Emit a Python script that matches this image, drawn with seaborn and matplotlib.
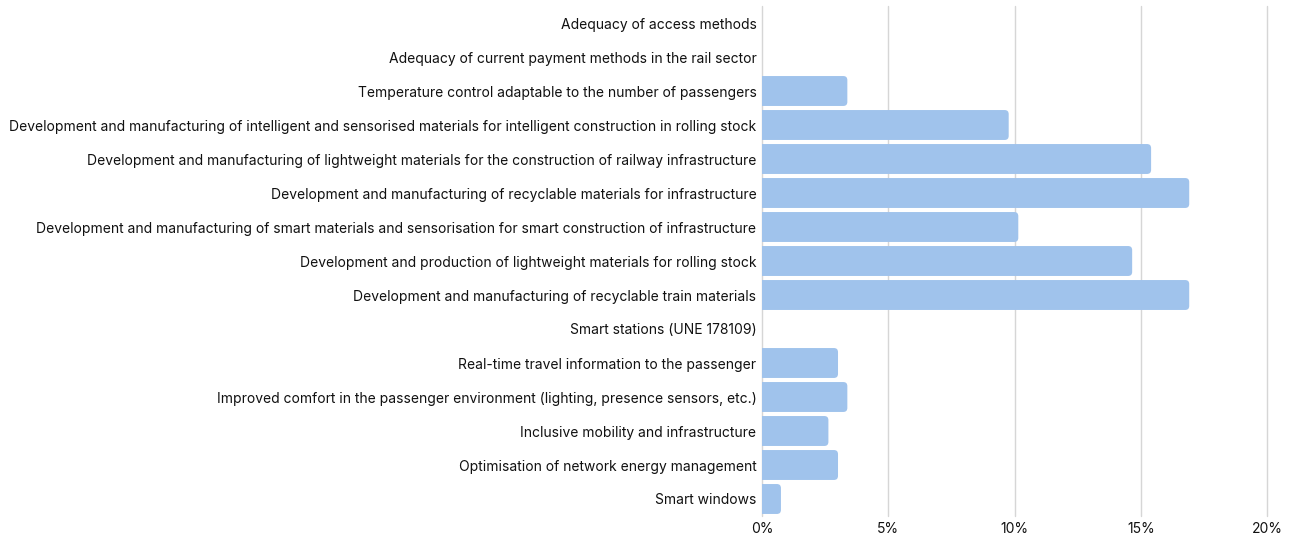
import matplotlib
matplotlib.use("Agg")
import matplotlib.pyplot as plt
import seaborn as sns
import pandas as pd
from matplotlib.patches import FancyBboxPatch
from matplotlib.ticker import FuncFormatter

categories = [
    "Adequacy of access methods",
    "Adequacy of current payment methods in the rail sector",
    "Temperature control adaptable to the number of passengers",
    "Development and manufacturing of intelligent and sensorised materials for intelligent construction in rolling stock",
    "Development and manufacturing of lightweight materials for the construction of railway infrastructure",
    "Development and manufacturing of recyclable materials for infrastructure",
    "Development and manufacturing of smart materials and sensorisation for smart construction of infrastructure",
    "Development and production of lightweight materials for rolling stock",
    "Development and manufacturing of recyclable train materials",
    "Smart stations (UNE 178109)",
    "Real-time travel information to the passenger",
    "Improved comfort in the passenger environment (lighting, presence sensors, etc.)",
    "Inclusive mobility and infrastructure",
    "Optimisation of network energy management",
    "Smart windows",
]
shares = [0.0, 0.0, 3.38, 9.77, 15.41, 16.92, 10.15, 14.66, 16.92,
          0.0, 3.01, 3.38, 2.63, 3.01, 0.75]
x_ticks = [0, 5, 10, 15, 20]

bar_color = "#A0C3EC"
text_color = "#111111"

sns.set_theme(style="white")
plt.rcParams["font.family"] = ["Inter", "DejaVu Sans"]

df = pd.DataFrame({"category": categories, "share": shares})

fig = plt.figure(figsize=(12.9, 5.35), dpi=100)
ax = fig.add_axes([762 / 1290, 1 - 516 / 535, (1267 - 762) / 1290, (516 - 6) / 535])

sns.barplot(data=df, y="category", x="share", orient="h", color=bar_color,
            width=0.88, saturation=1, ax=ax, zorder=2)

ax.set_xlim(0, 20)
ax.set_ylim(len(categories) - 0.5, -0.5)

# swap the square bars for ones with rounded ends
radius = 0.16
for p in list(ax.patches):
    x0, y0 = p.get_x(), p.get_y()
    w, h = p.get_width(), p.get_height()
    p.remove()
    if w <= 0:
        continue
    rb = FancyBboxPatch((x0 - radius * 1.5, y0), w + radius * 1.5, h,
                        boxstyle=f"round,pad=0,rounding_size={radius}",
                        mutation_aspect=0.75, facecolor=bar_color,
                        edgecolor="none", zorder=2)
    ax.add_patch(rb)

ax.set_xticks(x_ticks)
ax.xaxis.set_major_formatter(FuncFormatter(lambda v, _: f"{v:.0f}%"))
ax.grid(axis="x", color="#D6D6D6", linewidth=1.0, zorder=0)
for gl in ax.get_xgridlines():
    gl.set_clip_on(False)
ax.grid(axis="y", visible=False)
for s in ax.spines.values():
    s.set_visible(False)
ax.tick_params(axis="both", length=0, labelsize=10, labelcolor=text_color)
ax.tick_params(axis="y", pad=4)
ax.tick_params(axis="x", pad=4)
ax.set_xlabel("")
ax.set_ylabel("")

fig.savefig("out.png", dpi=100, facecolor="white")
